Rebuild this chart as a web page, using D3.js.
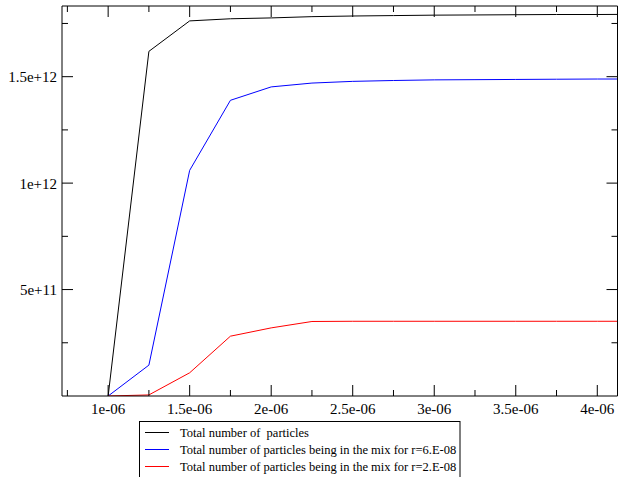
<!DOCTYPE html>
<html><head><meta charset="utf-8">
<script src="https://cdn.jsdelivr.net/npm/d3@7"></script>
<style>html,body{margin:0;padding:0;background:#fff;}svg{display:block;}</style>
</head><body>
<svg id="chart" width="620" height="477"></svg>
<script>
const xValues = [1.0e-6, 1.25e-6, 1.5e-6, 1.75e-6, 2.0e-6, 2.25e-6, 2.5e-6, 2.75e-6, 3.0e-6, 3.25e-6, 3.5e-6, 3.75e-6, 4.0e-6, 4.25e-6];
const totalParticles = [0, 1.619e12, 1.762e12, 1.772e12, 1.776e12, 1.782e12, 1.785e12, 1.787e12, 1.789e12, 1.790e12, 1.791e12, 1.792e12, 1.792e12, 1.793e12];
const mixR6 = [0, 0.145e12, 1.06e12, 1.389e12, 1.452e12, 1.470e12, 1.478e12, 1.482e12, 1.485e12, 1.486e12, 1.487e12, 1.488e12, 1.489e12, 1.489e12];
const mixR2 = [0, 0.005e12, 0.109e12, 0.281e12, 0.320e12, 0.350e12, 0.351e12, 0.351e12, 0.351e12, 0.351e12, 0.351e12, 0.351e12, 0.351e12, 0.351e12];
const seriesNames = ["Total number of  particles", "Total number of particles being in the mix for r=6.E-08", "Total number of particles being in the mix for r=2.E-08"];
const seriesColors = ["#000000", "#0000ff", "#ff0000"];
const xMajorTicks = [1e-6, 1.5e-6, 2e-6, 2.5e-6, 3e-6, 3.5e-6, 4e-6];
const xMajorLabels = ["1e-06", "1.5e-06", "2e-06", "2.5e-06", "3e-06", "3.5e-06", "4e-06"];
const xMinorTicks = [0.75e-6, 1.25e-6, 1.75e-6, 2.25e-6, 2.75e-6, 3.25e-6, 3.75e-6];
const yMajorTicks = [5e11, 1e12, 1.5e12];
const yMajorLabels = ["5e+11", "1e+12", "1.5e+12"];
const yMinorTicks = [2.5e11, 7.5e11, 1.25e12, 1.75e12];

const svg = d3.select("#chart");
const L = 62, R = 617.5, T = 6, B = 396;
const x = d3.scaleLinear().domain([0.717e-6, 4.124e-6]).range([L, R]);
const y = d3.scaleLinear().domain([0, 1.832e12]).range([B, T]);

svg.append("defs").append("clipPath").attr("id", "clip")
  .append("rect").attr("x", L).attr("y", T).attr("width", R - L).attr("height", B - T);

const series = [totalParticles, mixR6, mixR2];
const line = d3.line().x((d, i) => x(xValues[i])).y(d => y(d));
const gLines = svg.append("g").attr("clip-path", "url(#clip)");
series.forEach((s, k) => {
  gLines.append("path").datum(s).attr("d", line)
    .attr("fill", "none").attr("stroke", seriesColors[k]).attr("stroke-width", 1);
});

const tickColor = "#000";
function vTicks(vals, len) {
  vals.forEach(v => {
    svg.append("line").attr("x1", x(v)).attr("x2", x(v)).attr("y1", B).attr("y2", B - len).attr("stroke", tickColor);
    svg.append("line").attr("x1", x(v)).attr("x2", x(v)).attr("y1", T).attr("y2", T + len).attr("stroke", tickColor);
  });
}
function hTicks(vals, len) {
  vals.forEach(v => {
    svg.append("line").attr("y1", y(v)).attr("y2", y(v)).attr("x1", L).attr("x2", L + len).attr("stroke", tickColor);
    svg.append("line").attr("y1", y(v)).attr("y2", y(v)).attr("x1", R).attr("x2", R - len).attr("stroke", tickColor);
  });
}
vTicks(xMajorTicks, 11);
vTicks(xMinorTicks, 6);
hTicks(yMajorTicks, 11);
hTicks(yMinorTicks, 6);

// frame
svg.append("line").attr("x1", L).attr("x2", R).attr("y1", T).attr("y2", T).attr("stroke", "#000");
svg.append("line").attr("x1", L).attr("x2", R).attr("y1", B).attr("y2", B).attr("stroke", "#000");
svg.append("line").attr("x1", L).attr("x2", L).attr("y1", T).attr("y2", B).attr("stroke", "#000");
svg.append("line").attr("x1", R).attr("x2", R).attr("y1", T).attr("y2", B).attr("stroke", "#000");

const font = "'Liberation Serif', 'Times New Roman', serif";
xMajorTicks.forEach((v, i) => {
  svg.append("text").attr("x", x(v)).attr("y", 414).attr("text-anchor", "middle")
    .attr("font-family", font).attr("font-size", 15).text(xMajorLabels[i]);
});
yMajorTicks.forEach((v, i) => {
  svg.append("text").attr("x", 57).attr("y", y(v) + 5.5).attr("text-anchor", "end")
    .attr("font-family", font).attr("font-size", 15).text(yMajorLabels[i]);
});

// legend
const lg = svg.append("g");
lg.append("rect").attr("x", 139.5).attr("y", 421.5).attr("width", 320.5).attr("height", 70)
  .attr("fill", "#fff").attr("stroke", "#000");
seriesNames.forEach((n, i) => {
  const ly = 432.5 + i * 17;
  lg.append("line").attr("x1", 145).attr("x2", 169).attr("y1", ly).attr("y2", ly).attr("stroke", seriesColors[i]);
  lg.append("text").attr("x", 180).attr("y", ly + 4).attr("font-family", font).attr("font-size", 12.5)
    .style("white-space", "pre").text(n);
});
</script>
</body></html>
